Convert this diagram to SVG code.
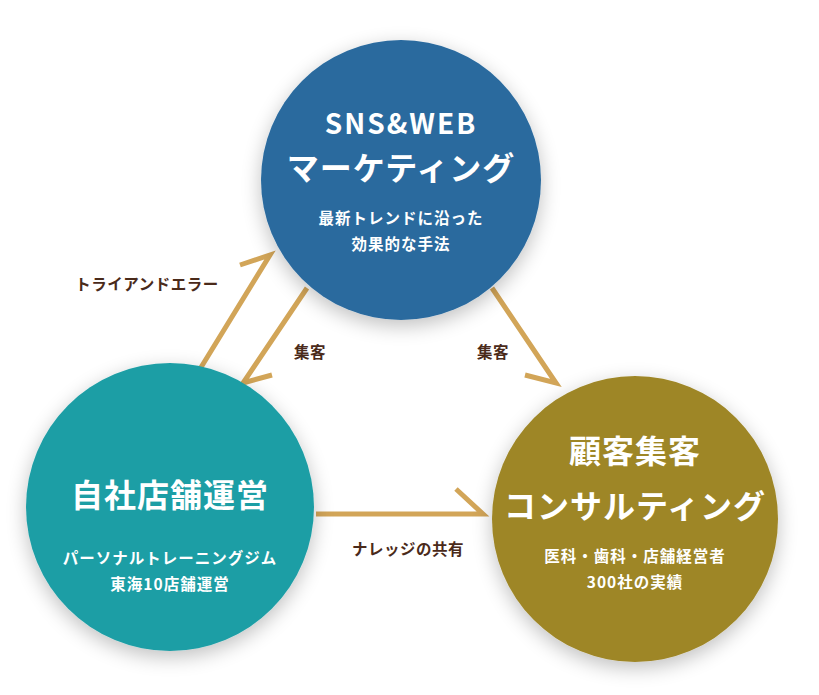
<svg xmlns="http://www.w3.org/2000/svg" width="819" height="695" viewBox="0 0 819 695">
<defs>
<filter id="sh" x="-30%" y="-30%" width="160%" height="160%"><feGaussianBlur in="SourceAlpha" stdDeviation="10"/><feOffset dx="0" dy="6"/><feComponentTransfer><feFuncA type="linear" slope="0.25"/></feComponentTransfer><feMerge><feMergeNode/><feMergeNode in="SourceGraphic"/></feMerge></filter>
<style>
.t{font-family:"Noto Sans CJK JP","Noto Sans",sans-serif;font-weight:bold;fill:#fff;text-anchor:middle}
.s{font-size:15.5px;letter-spacing:1px}
.l{font-family:"Noto Sans CJK JP",sans-serif;font-weight:bold;fill:#4a2a1a;font-size:15.5px;text-anchor:middle;letter-spacing:0.5px}
.a{stroke:#d2a558;stroke-width:5;fill:none;stroke-linecap:butt}
</style>
</defs>
<rect width="819" height="695" fill="#fff"/>
<g id="connectors">
<path class="a" d="M200 369 L270 255 L240 265"/>
<path class="a" d="M307 288 L243 383 L272 375"/>
<path class="a" d="M492 288 L556 383 L525 375"/>
<path class="a" d="M316 514 L483 514 L456 489"/>
<text class="l" x="147" y="290">トライアンドエラー</text>
<text class="l" x="310" y="358">集客</text>
<text class="l" x="493" y="358">集客</text>
<text class="l" x="408" y="555">ナレッジの共有</text>
</g>
<g id="sns">
<circle cx="401" cy="180" r="140" fill="#2a6a9e" filter="url(#sh)"/>
<text class="t" x="401" y="134" font-size="28" letter-spacing="2">SNS&amp;WEB</text>
<text class="t" x="401" y="180" font-size="32" letter-spacing="1">マーケティング</text>
<text class="t s" x="401" y="224">最新トレンドに沿った</text>
<text class="t s" x="401" y="250">効果的な手法</text>
</g>
<g id="store">
<circle cx="170" cy="507" r="144" fill="#1f9ea5" filter="url(#sh)"/>
<text class="t" x="170" y="507" font-size="32" letter-spacing="1">自社店舗運営</text>
<text class="t s" x="170" y="564">パーソナルトレーニングジム</text>
<text class="t s" x="170" y="590">東海10店舗運営</text>
</g>
<g id="consult">
<circle cx="635" cy="519" r="143" fill="#9e8628" filter="url(#sh)"/>
<text class="t" x="635" y="463" font-size="32" letter-spacing="1">顧客集客</text>
<text class="t" x="635" y="518" font-size="32" letter-spacing="1">コンサルティング</text>
<text class="t s" x="635" y="562">医科・歯科・店舗経営者</text>
<text class="t s" x="635" y="588">300社の実績</text>
</g>
</svg>
